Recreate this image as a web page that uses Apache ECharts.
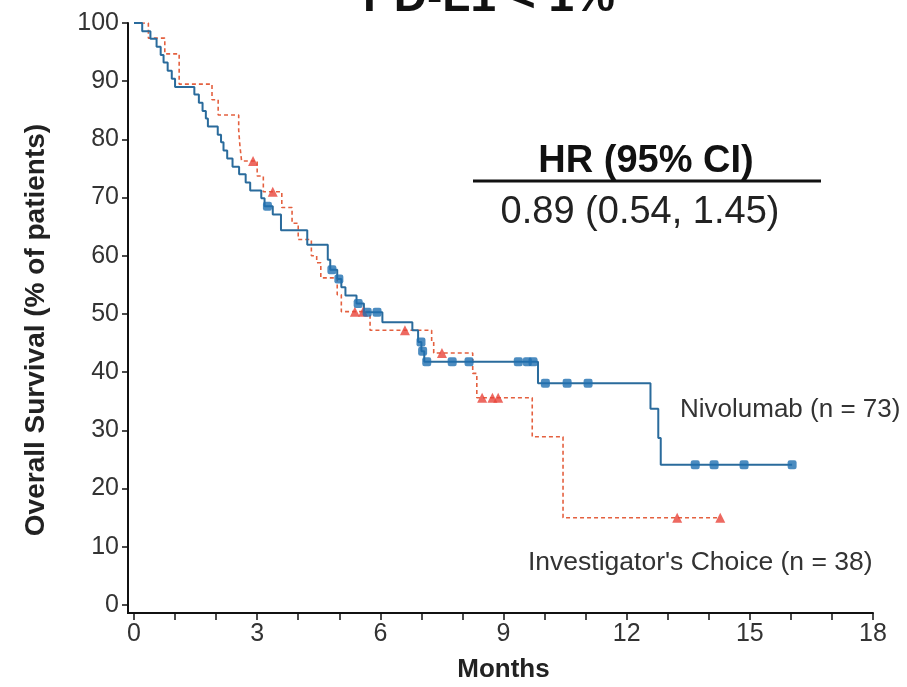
<!DOCTYPE html>
<html>
<head>
<meta charset="utf-8">
<title>Overall Survival – PD-L1 &lt; 1%</title>
<script src="https://cdn.jsdelivr.net/npm/echarts@6/dist/echarts.min.js"></script>
<style>
  html, body { margin: 0; padding: 0; background: #ffffff; }
  #chart { width: 907px; height: 687px; }
</style>
</head>
<body>
<div id="chart"></div>
<script>
// Kaplan–Meier step points: [month, % surviving] at each change of level
const nivolumabSteps = [
  [0, 100], [0.2, 98.6], [0.4, 97.3], [0.55, 95.9], [0.65, 94.5], [0.72, 93.2],
  [0.82, 91.8], [0.92, 90.4], [1.0, 89.0], [1.47, 87.7], [1.58, 86.3], [1.67, 84.9],
  [1.75, 83.6], [1.8, 82.2], [2.04, 80.8], [2.12, 79.5], [2.18, 78.1], [2.27, 76.7],
  [2.4, 75.3], [2.56, 74.0], [2.72, 72.6], [2.83, 71.2], [3.1, 69.9], [3.18, 68.5],
  [3.38, 67.1], [3.58, 64.4], [4.22, 61.9], [4.72, 59.3], [4.78, 57.6], [4.95, 56.0],
  [5.05, 54.6], [5.15, 53.2], [5.42, 51.8], [5.6, 50.3], [6.05, 48.6], [6.78, 47.2],
  [6.92, 45.2], [7.0, 43.6], [7.07, 41.8], [9.84, 38.1], [12.58, 33.7], [12.77, 28.7],
  [12.83, 24.1], [16.03, 24.1]
];
const nivolumabCensored = [
  3.25, 4.82, 4.99, 5.46, 5.68, 5.92, 6.99, 7.03, 7.13, 7.75, 8.16,
  9.36, 9.58, 9.72, 10.02, 10.55, 11.06, 13.67, 14.13, 14.86, 16.03
];

const investigatorSteps = [
  [0, 100], [0.35, 97.4], [0.75, 94.7], [1.1, 89.5], [1.9, 86.8], [2.05, 84.2],
  [2.55, 81.6], [2.58, 78.9], [2.62, 76.3], [3.0, 73.7], [3.15, 71.0], [3.6, 68.3],
  [3.85, 65.6], [4.0, 62.8], [4.32, 60.0], [4.45, 58.8], [4.55, 56.2], [4.95, 53.3],
  [5.05, 50.4], [5.75, 47.2], [7.25, 45.2], [7.3, 43.3], [8.25, 39.8], [8.35, 35.6],
  [9.7, 28.9], [10.45, 15.0], [14.28, 15.0]
];
const investigatorCensored = [2.9, 3.38, 5.38, 5.58, 6.6, 7.5, 8.48, 8.73, 8.87, 13.23, 14.28];

const monthTicks = [0, 3, 6, 9, 12, 15, 18];
const survivalTicks = [0, 10, 20, 30, 40, 50, 60, 70, 80, 90, 100];

const chartTitle = 'PD-L1 < 1%';
const yTitle = 'Overall Survival (% of patients)';
const xTitle = 'Months';
const hrHeader = 'HR (95% CI)';
const hrValue = '0.89 (0.54, 1.45)';
const nivolumabLabel = 'Nivolumab (n = 73)';
const investigatorLabel = "Investigator's Choice (n = 38)";

// Level of a step curve at time t (value holds until the next change)
function levelAt(steps, t) {
  let v = steps[0][1];
  for (const [m, s] of steps) {
    if (m <= t + 1e-9) v = s; else break;
  }
  return v;
}
const censorPoints = (steps, times) => times.map(t => [t, levelAt(steps, t)]);

const FONT = '"Liberation Sans", Arial, sans-serif';
const AXIS_COLOR = '#111';
const X_OFFSET = 8;
const Y_OFFSET = 6;
const BLUE_LINE = '#2a6b9c';
const BLUE_MARK = '#1f6fb0';
const RED_LINE = '#e4603f';
const RED_MARK = '#e8433a';

const chart = echarts.init(document.getElementById('chart'), null, { renderer: 'canvas' });

const textGraphics = [
  {
    type: 'text', x: 489, y: -25,
    style: { text: chartTitle, font: 'bold 46px ' + FONT, fill: '#111', align: 'center', verticalAlign: 'top' }
  },
  {
    type: 'text', x: 36, y: 330, rotation: Math.PI / 2,
    style: { text: yTitle, font: 'bold 28px ' + FONT, fill: '#222', align: 'center', verticalAlign: 'middle' }
  },
  {
    type: 'text', x: 646, y: 162,
    style: { text: hrHeader, font: 'bold 38px ' + FONT, fill: '#111', align: 'center', verticalAlign: 'middle' }
  },
  {
    type: 'line', shape: { x1: 473, y1: 181, x2: 821, y2: 181 },
    style: { stroke: '#111', lineWidth: 3 }
  },
  {
    type: 'text', x: 640, y: 213,
    style: { text: hrValue, font: '38px ' + FONT, fill: '#222', align: 'center', verticalAlign: 'middle' }
  },
  {
    type: 'text', x: 680, y: 410,
    style: { text: nivolumabLabel, font: '26px ' + FONT, fill: '#333', align: 'left', verticalAlign: 'middle' }
  },
  {
    type: 'text', x: 528, y: 563,
    style: { text: investigatorLabel, font: '26.5px ' + FONT, fill: '#333', align: 'left', verticalAlign: 'middle' }
  }
];

chart.setOption({
  animation: false,
  backgroundColor: '#ffffff',
  grid: { left: 134, right: 34, top: 23, bottom: 82, containLabel: false, outerBoundsMode: 'none' },
  xAxis: {
    type: 'value',
    min: monthTicks[0],
    max: monthTicks[monthTicks.length - 1],
    interval: 1,
    offset: X_OFFSET,
    name: xTitle,
    nameLocation: 'middle',
    nameGap: 44,
    nameTextStyle: { fontFamily: FONT, fontSize: 26, fontWeight: 'bold', color: '#222' },
    axisLine: { show: true, onZero: false, lineStyle: { color: AXIS_COLOR, width: 2 } },
    axisTick: { show: true, length: 7, lineStyle: { color: AXIS_COLOR, width: 1.5 } },
    axisLabel: {
      fontFamily: FONT, fontSize: 25, color: '#333', margin: 9,
      formatter: v => (monthTicks.includes(v) ? String(v) : '')
    },
    splitLine: { show: false }
  },
  yAxis: {
    type: 'value',
    min: survivalTicks[0],
    max: survivalTicks[survivalTicks.length - 1],
    interval: 10,
    offset: Y_OFFSET,
    axisLine: { show: true, onZero: false, lineStyle: { color: AXIS_COLOR, width: 2 } },
    axisTick: { show: true, length: 6, lineStyle: { color: AXIS_COLOR, width: 1.5 } },
    axisLabel: { fontFamily: FONT, fontSize: 25, color: '#333', margin: 9 },
    splitLine: { show: false }
  },
  graphic: textGraphics,
  series: [
    {
      name: 'Investigator\'s Choice',
      type: 'line',
      step: 'end',
      data: investigatorSteps,
      showSymbol: false,
      lineStyle: { color: RED_LINE, width: 1.6, type: [4, 3] },
      z: 2
    },
    {
      name: 'Nivolumab',
      type: 'line',
      step: 'end',
      data: nivolumabSteps,
      showSymbol: false,
      lineStyle: { color: BLUE_LINE, width: 2 },
      z: 3
    },
    {
      name: 'Investigator\'s Choice censored',
      type: 'scatter',
      data: censorPoints(investigatorSteps, investigatorCensored),
      symbol: 'triangle',
      symbolSize: 10,
      itemStyle: { color: RED_MARK },
      z: 4
    },
    {
      name: 'Nivolumab censored',
      type: 'scatter',
      data: censorPoints(nivolumabSteps, nivolumabCensored),
      symbol: 'roundRect',
      symbolSize: 9,
      itemStyle: { color: BLUE_MARK },
      z: 5
    }
  ]
});

// Join the offset axis lines into one corner at the origin
const origin = chart.convertToPixel({ gridIndex: 0 }, [monthTicks[0], survivalTicks[0]]);
const cornerX = origin[0] - Y_OFFSET;
const cornerY = origin[1] + X_OFFSET;
chart.setOption({
  graphic: textGraphics.concat([
    {
      type: 'polyline',
      shape: { points: [[cornerX, origin[1]], [cornerX, cornerY], [origin[0], cornerY]] },
      style: { stroke: AXIS_COLOR, lineWidth: 2, fill: null }
    }
  ])
});
</script>
</body>
</html>
